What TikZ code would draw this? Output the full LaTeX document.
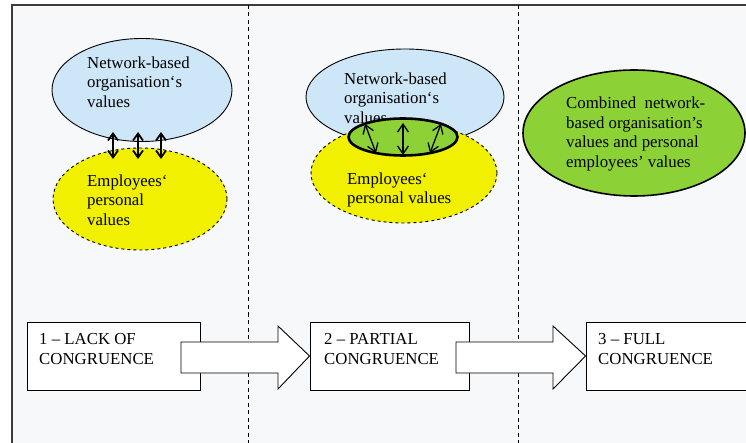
\documentclass[tikz,border=0pt]{standalone}
\usepackage{fontspec}
\setmainfont{Liberation Serif}
\usetikzlibrary{arrows.meta,shapes.geometric}
\definecolor{bgc}{RGB}{246,248,249}
\definecolor{bluev}{RGB}{205,230,248}
\definecolor{yellowv}{RGB}{240,240,0}
\definecolor{greenv}{RGB}{140,210,55}
\definecolor{framec}{RGB}{60,60,60}
\begin{document}
\begin{tikzpicture}[x=1pt,y=-1pt,
  lbl/.style={font=\fontsize{16.8}{19.5}\selectfont, align=left, inner sep=0pt, anchor=west},
  valell/.style={ellipse, draw=black, line width=0.9pt, inner sep=0pt},
  stagebox/.style={draw=black, line width=0.9pt, fill=white, inner sep=0pt},
  sep/.style={line width=0.9pt, dash pattern=on 4pt off 3.5pt},
  blockarrow/.style={draw=black, line width=0.9pt, fill=white, line join=miter},
  dbl1/.style={{Straight Barb[length=7pt,width=10pt]}-{Straight Barb[length=7pt,width=10pt]}, line width=1.8pt},
  dbl2/.style={{Straight Barb[length=8pt,width=11pt]}-{Straight Barb[length=8pt,width=11pt]}, line width=1.3pt}]
\clip (0,0) rectangle (746,443);
\fill[white] (0,0) rectangle (746,443);
\fill[bgc] (12,5) rectangle (760,450);
\draw[framec, line width=1.3pt] (12,450) -- (12,5) -- (760,5);
\draw[sep] (248,5) -- (248,450);
\draw[sep] (518,5) -- (518,450);

% Panel 1
\node[valell, fill=bluev, minimum width=180pt, minimum height=103pt] (org1) at (142,90) {};
\node[lbl] (org1t) at (87,82) {Network-based\\organisation‘s\\values};
\node[valell, fill=yellowv, dashed, minimum width=174pt, minimum height=102pt] (emp1) at (140,199) {};
\node[lbl] (emp1t) at (87,200) {Employees‘\\personal\\values};
\coordinate (a1t) at (113,132); \coordinate (a1b) at (113,159);
\coordinate (a2t) at (138,132); \coordinate (a2b) at (138,159);
\coordinate (a3t) at (161,132); \coordinate (a3b) at (161,159);
\draw[dbl1] (a1t) -- (a1b);
\draw[dbl1] (a2t) -- (a2b);
\draw[dbl1] (a3t) -- (a3b);

% Panel 2
\node[valell, fill=bluev, minimum width=198pt, minimum height=96pt] (org2) at (405,97) {};
\node[lbl] (org2t) at (344,98) {Network-based\\organisation‘s\\values};
\node[valell, fill=yellowv, dashed, minimum width=186pt, minimum height=100pt] (emp2) at (404,173) {};
\node[lbl] (emp2t) at (347,190) {Employees‘\\personal values};
\node[valell, fill=greenv, line width=2.6pt, minimum width=109pt, minimum height=37pt] (ovl) at (403,137) {};
\coordinate (b1t) at (365,124); \coordinate (b1b) at (376,153);
\coordinate (b2t) at (403,123); \coordinate (b2b) at (403,155);
\coordinate (b3t) at (441,124); \coordinate (b3b) at (430,153);
\draw[dbl2] (b1t) -- (b1b);
\draw[dbl2] (b2t) -- (b2b);
\draw[dbl2] (b3t) -- (b3b);

% Panel 3
\node[valell, fill=greenv, line width=1.6pt, minimum width=222pt, minimum height=126pt] (comb) at (634,133) {};
\node[lbl] (combt) at (566,134) {Combined\ \ network-\\based organisation’s\\values and personal\\employees’ values};

% Stage boxes
\node[stagebox, minimum width=173pt, minimum height=68pt] (s1) at (113.5,356) {};
\node[stagebox, minimum width=159pt, minimum height=68pt] (s2) at (389.5,356) {};
\node[stagebox, minimum width=174pt, minimum height=68pt] (s3) at (673,356) {};

% Block arrows
\draw[blockarrow] (181,342) -- (278,342) -- (278,326) -- (s2.west) -- (278,389) -- (278,373) -- (181,373) -- cycle;
\draw[blockarrow] (456,342) -- (553,342) -- (553,326) -- (s3.west) -- (553,389) -- (553,373) -- (456,373) -- cycle;

\node[lbl] (s1t) at (39,349) {1 – LACK OF\\CONGRUENCE};
\node[lbl] (s2t) at (324,349) {2 – PARTIAL\\CONGRUENCE};
\node[lbl] (s3t) at (598,349) {3 – FULL\\CONGRUENCE};
\end{tikzpicture}
\end{document}
